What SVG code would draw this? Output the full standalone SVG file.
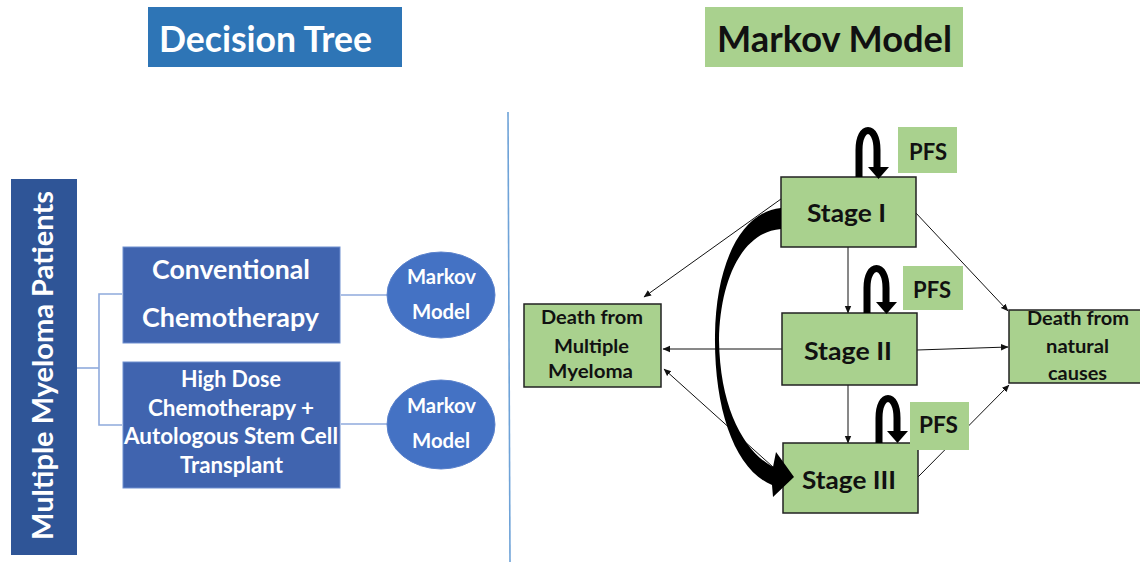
<svg xmlns="http://www.w3.org/2000/svg" width="1140" height="562" viewBox="0 0 1140 562">
<defs>
<style>
text{font-family:Lato,"Open Sans","Liberation Sans",sans-serif;font-weight:bold;text-anchor:middle}
.w{fill:#ffffff}
.k{fill:#111111}
.tree{stroke:#8FAADC;stroke-width:1.6;fill:none}
.thin{stroke:#111;stroke-width:1;fill:none;marker-end:url(#ah)}
.stage{fill:#A9D18E;stroke:#222;stroke-width:1.5}
.pfs{fill:#A9D18E}
.loop{stroke:#000;stroke-width:7;fill:none}
.blk{fill:#000}
.tb{fill:#4064AF;stroke:#6F8FD0;stroke-width:1}
.ell{fill:#4472C4;stroke:#5B82CC;stroke-width:1}
</style>
<marker id="ah" markerWidth="8" markerHeight="8" refX="7" refY="4" orient="auto" markerUnits="userSpaceOnUse">
<path d="M0,0.8 L7.5,4 L0,7.2 Z" fill="#111"/>
</marker>
</defs>
<rect width="1140" height="562" fill="#ffffff"/>

<!-- titles -->
<g id="title-decision-tree">
<rect x="148" y="7" width="254" height="60" fill="#2E75B6"/>
<text x="265.5" y="52" font-size="36" class="w" textLength="213" lengthAdjust="spacingAndGlyphs">Decision Tree</text>
</g>
<g id="title-markov-model">
<rect x="705" y="7" width="258" height="60" fill="#A9D18E"/>
<text x="834.5" y="52" font-size="36" class="k" textLength="235" lengthAdjust="spacingAndGlyphs">Markov Model</text>
</g>

<!-- divider -->
<line x1="508" y1="112" x2="510" y2="562" stroke="#6FA3D8" stroke-width="1.6"/>

<!-- connectors (thin) -->
<g id="connectors">
<polyline class="tree" points="77,368 99,368"/>
<polyline class="tree" points="122,294 99,294 99,425 122,425"/>
<line class="tree" x1="341" y1="295" x2="387" y2="295"/>
<line class="tree" x1="341" y1="424" x2="387" y2="424"/>
<line class="thin" x1="781" y1="199" x2="644" y2="297"/>
<line class="thin" x1="915" y1="212" x2="1008" y2="311"/>
<line class="thin" x1="848" y1="247" x2="848" y2="313"/>
<line class="thin" x1="782" y1="349" x2="663" y2="349"/>
<line class="thin" x1="917" y1="350" x2="1008" y2="347"/>
<line class="thin" x1="848" y1="385" x2="848" y2="443"/>
<line class="thin" x1="783" y1="476" x2="664" y2="369"/>
<line class="thin" x1="918" y1="477" x2="1009" y2="385"/>
</g>

<!-- decision tree nodes -->
<g id="node-patients">
<rect x="11" y="179" width="66" height="376" fill="#2F5597"/>
<text transform="translate(53,365.5) rotate(-90)" font-size="29" class="w" textLength="349" lengthAdjust="spacingAndGlyphs">Multiple Myeloma Patients</text>
</g>
<g id="node-conventional">
<rect class="tb" x="123" y="247" width="217" height="96"/>
<text x="231" y="279" font-size="27" class="w" textLength="158" lengthAdjust="spacingAndGlyphs">Conventional</text>
<text x="230.5" y="327" font-size="27" class="w" textLength="177" lengthAdjust="spacingAndGlyphs">Chemotherapy</text>
</g>
<g id="node-highdose">
<rect class="tb" x="123" y="362" width="217" height="126"/>
<text x="231" y="387" font-size="22" class="w" textLength="100" lengthAdjust="spacingAndGlyphs">High Dose</text>
<text x="231" y="416" font-size="22" class="w" textLength="166" lengthAdjust="spacingAndGlyphs">Chemotherapy +</text>
<text x="231" y="444" font-size="22" class="w" textLength="214" lengthAdjust="spacingAndGlyphs">Autologous Stem Cell</text>
<text x="231.5" y="473" font-size="22" class="w" textLength="103" lengthAdjust="spacingAndGlyphs">Transplant</text>
</g>
<g id="node-markov-1">
<ellipse class="ell" cx="441" cy="295" rx="54" ry="43"/>
<text x="441.5" y="284" font-size="21" class="w" textLength="69" lengthAdjust="spacingAndGlyphs">Markov</text>
<text x="441" y="319" font-size="21" class="w" textLength="58" lengthAdjust="spacingAndGlyphs">Model</text>
</g>
<g id="node-markov-2">
<ellipse class="ell" cx="441" cy="424.5" rx="54" ry="44.5"/>
<text x="441.5" y="413" font-size="21" class="w" textLength="69" lengthAdjust="spacingAndGlyphs">Markov</text>
<text x="441" y="448" font-size="21" class="w" textLength="58" lengthAdjust="spacingAndGlyphs">Model</text>
</g>

<!-- markov nodes -->
<g id="node-stage-1">
<rect class="stage" x="781" y="177" width="135" height="70"/>
<text x="846.5" y="222" font-size="25" class="k" textLength="79" lengthAdjust="spacingAndGlyphs">Stage I</text>
</g>
<g id="node-stage-2">
<rect class="stage" x="782" y="313" width="135" height="72"/>
<text x="848" y="360" font-size="25" class="k" textLength="88" lengthAdjust="spacingAndGlyphs">Stage II</text>
</g>
<g id="node-stage-3">
<rect class="stage" x="783" y="443" width="135" height="70"/>
<text x="849" y="489" font-size="25" class="k" textLength="94" lengthAdjust="spacingAndGlyphs">Stage III</text>
</g>
<g id="node-pfs-1">
<rect class="pfs" x="898" y="127" width="59" height="46"/>
<text x="928" y="160" font-size="23" class="k" textLength="38" lengthAdjust="spacingAndGlyphs">PFS</text>
</g>
<g id="node-pfs-2">
<rect class="pfs" x="903" y="266" width="60" height="44"/>
<text x="932" y="298" font-size="23" class="k" textLength="38" lengthAdjust="spacingAndGlyphs">PFS</text>
</g>
<g id="node-pfs-3">
<rect class="pfs" x="910" y="402" width="59" height="48"/>
<text x="938.5" y="433" font-size="23" class="k" textLength="39" lengthAdjust="spacingAndGlyphs">PFS</text>
</g>
<g id="node-death-mm">
<rect class="stage" x="524" y="304" width="137" height="83"/>
<text x="592" y="324" font-size="18" class="k" textLength="102" lengthAdjust="spacingAndGlyphs">Death from</text>
<text x="591.5" y="353" font-size="18" class="k" textLength="75" lengthAdjust="spacingAndGlyphs">Multiple</text>
<text x="590.5" y="378" font-size="18" class="k" textLength="85" lengthAdjust="spacingAndGlyphs">Myeloma</text>
</g>
<g id="node-death-natural">
<rect class="stage" x="1009" y="310" width="134" height="73"/>
<text x="1078" y="325" font-size="18" class="k" textLength="102" lengthAdjust="spacingAndGlyphs">Death from</text>
<text x="1077.5" y="353" font-size="18" class="k" textLength="63" lengthAdjust="spacingAndGlyphs">natural</text>
<text x="1077.5" y="380" font-size="18" class="k" textLength="59" lengthAdjust="spacingAndGlyphs">causes</text>
</g>

<!-- connectors (thick: self-loops and curved arrow) -->
<g id="connectors-thick">
<path class="loop" d="M859 177 L859 150 C859 124 877 124 877 150 L877 169"/>
<polygon class="blk" points="868,167 889,167 878.5,179"/>
<path class="loop" d="M867 313 L867 288 C867 262 886 262 886 288 L886 304"/>
<polygon class="blk" points="876,302 897,302 886.5,314"/>
<path class="loop" d="M879 443 L879 418 C879 392 897 392 897 418 L897 433"/>
<polygon class="blk" points="887,431 908,431 897.5,443"/>
<path class="blk" d="M781 208 C740 212 716 265 715 335 C714 410 735 470 772 485 L773 497 L794 477 L776 452 L773 467 C745 452 720 410 719 340 C720 280 742 232 781 229 Z"/>
</g>
</svg>
